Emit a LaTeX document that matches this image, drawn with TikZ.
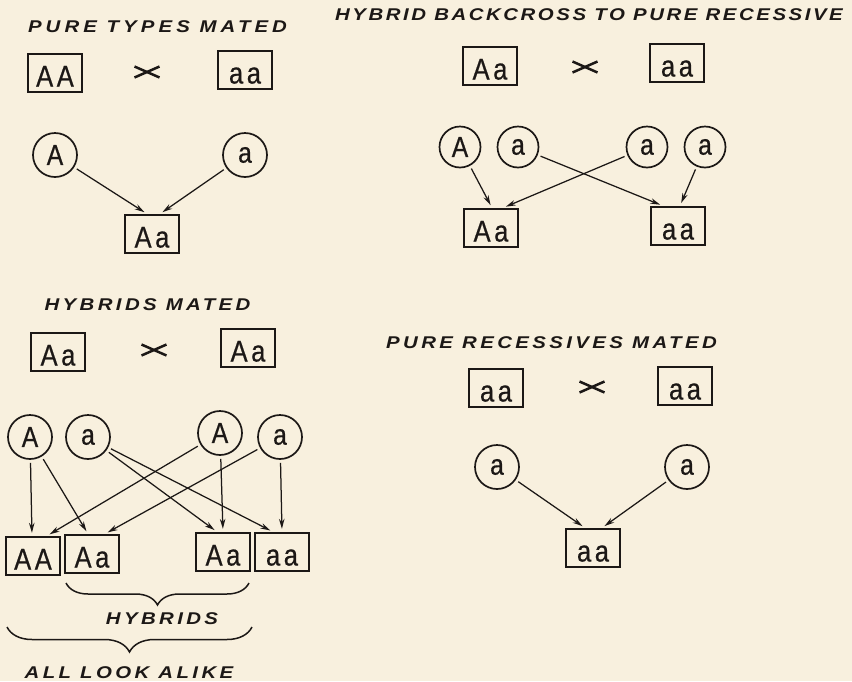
\documentclass[tikz,border=0pt]{standalone}
\usepackage{fontspec}
\usetikzlibrary{arrows.meta,decorations.pathreplacing}
\newfontfamily\genefont{Liberation Sans}[FakeStretch=0.85,LetterSpace=12,FakeBold=0.6]
\newfontfamily\capfont{Liberation Sans}[LetterSpace=20,FakeStretch=1.2]
\definecolor{paper}{RGB}{248,240,222}
\definecolor{ink}{RGB}{28,24,22}
\tikzset{
  geno/.style={draw=ink, text=ink, line width=2.3pt, minimum width=54pt,
    minimum height=38pt, inner sep=0pt, text height=27pt, text depth=0pt,
    font=\genefont\fontsize{30}{30}\selectfont},
  gam/.style={draw=ink, text=ink, circle, line width=1.7pt, minimum size=44pt,
    inner sep=0pt, font=\genefont\fontsize{29}{29}\selectfont},
  link/.style={draw=ink, line width=1.25pt, -{Stealth[length=10pt,width=5.5pt]},
    shorten <=3pt, shorten >=3pt},
  ttl/.style={text=ink, inner sep=0pt,
    font=\capfont\bfseries\itshape\fontsize{17}{17}\selectfont},
  crossline/.style={draw=ink, line width=2.5pt},
  brc/.style={draw=ink, line width=1.5pt, decorate,
    decoration={brace, amplitude=#1}},
}
% flat multiplication sign between two parents
\newcommand{\mating}[1]{%
  \draw[crossline] ([shift={(-12.5,-5.5)}]#1) -- ([shift={(12.5,5.5)}]#1);
  \draw[crossline] ([shift={(-12.5,5.5)}]#1) -- ([shift={(12.5,-5.5)}]#1);}
\begin{document}
\begin{tikzpicture}[x=1pt,y=-1pt]
\useasboundingbox (0,0) rectangle (852,681);
\fill[paper] (0,0) rectangle (852,681);

% ---------- pure types mated ----------
\node[ttl] (t1) at (157.5,27) {\addfontfeature{LetterSpace=24}PURE TYPES MATED};
\node[geno] (p1AA) at (55,73) {AA};
\coordinate (x1) at (147,72);
\mating{x1}
\node[geno] (p1aa) at (245,70) {aa};
\node[gam] (c1A) at (55,155) {A};
\node[gam] (c1a) at (245,155) {a};
\node[geno] (o1Aa) at (152,234) {Aa};
\draw[link] (c1A) -- ([xshift=-5pt]o1Aa.north);
\draw[link] (c1a) -- ([xshift=8pt]o1Aa.north);

% ---------- hybrid backcross ----------
\node[ttl] (t2) at (589,15) {\addfontfeature{LetterSpace=15}HYBRID BACKCROSS TO PURE RECESSIVE};
\node[geno] (p2Aa) at (490,66) {Aa};
\coordinate (x2) at (585,67);
\mating{x2}
\node[geno] (p2aa) at (677,63) {aa};
\node[gam, minimum size=41pt] (c2A) at (460,147) {A};
\node[gam, minimum size=41pt] (c2a) at (518,147) {a};
\node[gam, minimum size=41pt] (c2b) at (647,147) {a};
\node[gam, minimum size=41pt] (c2c) at (705,147) {a};
\node[geno] (o2Aa) at (491,228) {Aa};
\node[geno] (o2aa) at (678,226) {aa};
\draw[link] (c2A) -- ([xshift=1pt]o2Aa.north);
\draw[link] (c2b) -- ([xshift=12pt]o2Aa.north);
\draw[link] (c2a) -- ([xshift=-15pt]o2aa.north);
\draw[link] (c2c) -- ([xshift=2pt]o2aa.north);

% ---------- hybrids mated ----------
\node[ttl] (t3) at (147.5,305) {HYBRIDS MATED};
\node[geno] (p3Aa) at (58,352) {Aa};
\coordinate (x3) at (154,350);
\mating{x3}
\node[geno] (p3Ab) at (248,348) {Aa};
\node[gam] (c3A) at (30,437) {A};
\node[gam] (c3a) at (88,437) {a};
\node[gam] (c3B) at (220,433) {A};
\node[gam] (c3b) at (280,437) {a};
\node[geno] (o3AA) at (33,556) {AA};
\node[geno] (o3Aa) at (92,554) {Aa};
\node[geno] (o3Ab) at (223,552) {Aa};
\node[geno] (o3aa) at (282,552) {aa};
\draw[link] (c3A) -- ([xshift=-1pt]o3AA.north);
\draw[link] (c3A) -- ([xshift=-4pt]o3Aa.north);
\draw[link] (c3a) -- ([xshift=-6pt]o3Ab.north);
\draw[link] (c3a) -- ([xshift=-9pt]o3aa.north);
\draw[link] (c3B) -- ([xshift=14pt]o3AA.north);
\draw[link] (c3B) -- (o3Ab.north);
\draw[link] (c3b) -- ([xshift=13pt]o3Aa.north);
\draw[link] (c3b) -- (o3aa.north);
\coordinate (b1r) at (249,583);
\coordinate (b1l) at (66,583);
\draw[brc=22pt] (b1r) -- (b1l);
\node[ttl] (h3) at (162,619) {HYBRIDS};
\coordinate (b2r) at (252,627);
\coordinate (b2l) at (7,627);
\draw[brc=25pt] (b2r) -- (b2l);
\node[ttl] (l3) at (129,673) {ALL LOOK ALIKE};

% ---------- pure recessives mated ----------
\node[ttl] (t4) at (551.5,343) {PURE RECESSIVES MATED};
\node[geno] (p4aa) at (496,388) {aa};
\coordinate (x4) at (592,387);
\mating{x4}
\node[geno] (p4ab) at (685,386) {aa};
\node[gam] (c4a) at (497,467) {a};
\node[gam] (c4b) at (687,467) {a};
\node[geno] (o4aa) at (593,548) {aa};
\draw[link] (c4a) -- ([xshift=-8pt]o4aa.north);
\draw[link] (c4b) -- ([xshift=9pt]o4aa.north);
\end{tikzpicture}
\end{document}
